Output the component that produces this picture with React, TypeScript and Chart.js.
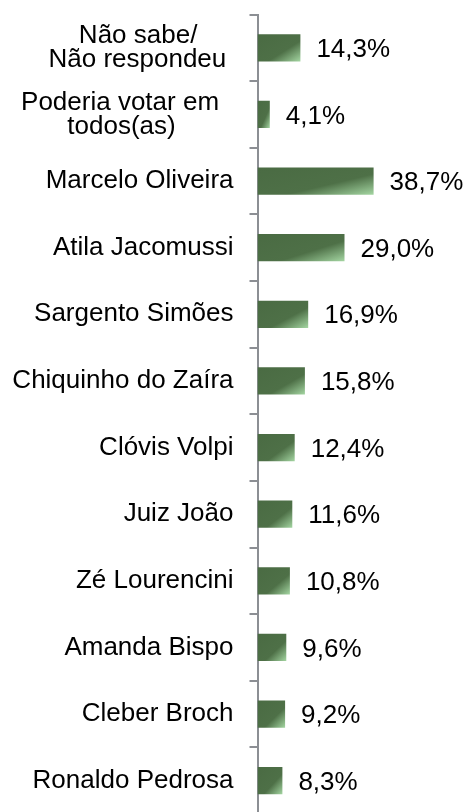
import React, { useEffect, useRef } from "react";
import { Chart, registerables } from "chart.js";

Chart.register(...registerables);

// ---- data ----
const categories: (string | string[])[] = [
  ["Não sabe/", "Não respondeu"],
  ["Poderia votar em ", "todos(as)"],
  "Marcelo Oliveira",
  "Atila Jacomussi",
  "Sargento Simões",
  "Chiquinho do Zaíra",
  "Clóvis Volpi",
  "Juiz João",
  "Zé Lourencini",
  "Amanda Bispo",
  "Cleber Broch",
  "Ronaldo Pedrosa",
];
const values = [14.3, 4.1, 38.7, 29.0, 16.9, 15.8, 12.4, 11.6, 10.8, 9.6, 9.2, 8.3];
const valueLabels = values.map((v) => v.toFixed(1).replace(".", ",") + "%");

// ---- styles ----
const FONT_FAMILY = '"Liberation Sans", Arial, sans-serif';
const FONT_SIZE = 26;
const FONT = `${FONT_SIZE}px ${FONT_FAMILY}`;
const AXIS = "#8c8f94";
const DARK = "#4a6b43";
const MID = "#4e7047";
const LIGHT = "#a4d6a2";
const BAR_PCT = 0.41;

let measureCtx: CanvasRenderingContext2D | null = null;
function centerLines(label: any) {
  if (!Array.isArray(label)) return label;
  if (!measureCtx) measureCtx = document.createElement("canvas").getContext("2d");
  const m = measureCtx!;
  m.font = FONT;
  const space = m.measureText(" ").width || 7;
  const widths = label.map((l: string) => m.measureText(l).width);
  const max = Math.max(...widths);
  return label.map(
    (l: string, i: number) =>
      l + " ".repeat(1 + Math.max(0, Math.round((max - widths[i]) / 2 / space)))
  );
}

function barFill(c: any) {
  const chart = c.chart;
  const xs = chart.scales?.x;
  const ys = chart.scales?.y;
  if (c.type !== "data" || !xs || !ys || c.raw == null) return DARK;
  const x0 = xs.getPixelForValue(0);
  const x1 = xs.getPixelForValue(c.raw);
  const yc = ys.getPixelForValue(c.dataIndex);
  const step = Math.abs(ys.getPixelForValue(1) - ys.getPixelForValue(0)) || 66;
  const h = step * BAR_PCT;
  const w = Math.max(1, x1 - x0);
  const top = yc - h / 2;
  if (!isFinite(x0) || !isFinite(yc)) return DARK;
  const k = (2 * w * h) / (h * h + w * w);
  const g = chart.ctx.createLinearGradient(x0, top, x0 + h * k, top + w * k);
  g.addColorStop(0, DARK);
  g.addColorStop(0.62, MID);
  g.addColorStop(1, LIGHT);
  return g;
}

const valueLabelPlugin = {
  id: "valueLabels",
  afterDatasetsDraw(chart: any) {
    const ctx = chart.ctx;
    const meta = chart.getDatasetMeta(0);
    ctx.save();
    ctx.font = FONT;
    ctx.fillStyle = "#000";
    ctx.textAlign = "left";
    ctx.textBaseline = "middle";
    meta.data.forEach((el: any, i: number) => {
      ctx.fillText(valueLabels[i], el.x + 16, el.y + 2);
    });
    ctx.restore();
  },
};

export default function App() {
  const ref = useRef<HTMLCanvasElement | null>(null);

  useEffect(() => {
    document.body.style.margin = "0";
    document.body.style.overflow = "hidden";
    document.documentElement.style.overflow = "hidden";
    const canvas = ref.current;
    if (!canvas) return;
    const chart = new Chart(canvas, {
      type: "bar",
      data: {
        labels: categories,
        datasets: [
          {
            data: values,
            backgroundColor: barFill as any,
            borderWidth: 0,
            barPercentage: BAR_PCT,
            categoryPercentage: 1,
          },
        ],
      },
      options: {
        indexAxis: "y",
        animation: false,
        responsive: true,
        maintainAspectRatio: false,
        layout: { padding: { top: 14.5, right: 29.5, bottom: 0, left: 0 } },
        plugins: { legend: { display: false }, tooltip: { enabled: false } },
        scales: {
          x: { display: false, min: 0, max: 60 },
          y: {
            position: "left",
            z: 1,
            border: { display: true, color: AXIS, width: 2 },
            grid: {
              display: true,
              drawOnChartArea: false,
              drawTicks: true,
              tickLength: 8,
              color: AXIS,
              lineWidth: 2,
              offset: true,
            },
            ticks: {
              color: "#000",
              font: { family: FONT_FAMILY, size: FONT_SIZE, lineHeight: 0.92 },
              padding: 16,
              autoSkip: false,
              callback: function (this: any, value: any) {
                return centerLines(this.getLabelForValue(value));
              },
            },
            afterFit: (s: any) => {
              s.width = 257.5;
              s.paddingTop = 0;
              s.paddingBottom = 0;
            },
          },
        },
      },
      plugins: [valueLabelPlugin],
    });
    return () => chart.destroy();
  }, []);

  return (
    <div style={{ position: "relative", width: 467, height: 814, overflow: "hidden" }}>
      <canvas ref={ref} style={{ display: "block" }} />
    </div>
  );
}
